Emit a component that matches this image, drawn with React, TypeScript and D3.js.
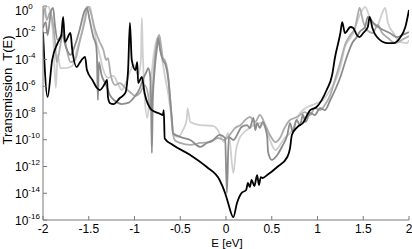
import React from 'react';
import * as d3 from 'd3';

const W = 412;
const H = 249;
const left = 43, right = 409, top = 6, bottom = 220;

const xTicks = [-2, -1.5, -1, -0.5, 0, 0.5, 1, 1.5, 2];
const xTickLabels = ['-2', '-1.5', '-1', '-0.5', '0', '0.5', '1', '1.5', '2'];
const yExponents = [0, -2, -4, -6, -8, -10, -12, -14, -16];

// [E in eV, log10 T(E)]
const blackCurve: [number, number][] = [
  [-2.00, -1.94], [-1.95, -6.8], [-1.90, -4.04], [-1.84, -2.77], [-1.80, -2.17], [-1.78, -0.82],
  [-1.76, -2.69], [-1.70, -2.02], [-1.68, -3.29], [-1.63, -4.56], [-1.60, -4.26], [-1.54, -3.81],
  [-1.52, -4.79], [-1.46, -5.53], [-1.41, -6.13], [-1.38, -6.28], [-1.32, -5.76], [-1.30, -5.53],
  [-1.29, -6.8], [-1.27, -7.25], [-1.23, -7.33], [-1.16, -6.88], [-1.10, -6.5], [-1.07, -4.79],
  [-1.05, -1.27], [-1.03, -4.04], [-0.99, -4.79], [-0.97, -4.19], [-0.96, -5.76], [-0.92, -5.31],
  [-0.89, -6.5], [-0.81, -7.78], [-0.74, -8.0], [-0.69, -8.15], [-0.68, -7.78], [-0.67, -9.9],
  [-0.58, -10.39], [-0.39, -11.14], [-0.21, -12.04], [-0.07, -13.01], [-0.01, -13.98], [0.02, -14.65],
  [0.08, -15.78], [0.12, -14.73], [0.17, -13.98], [0.22, -13.76], [0.24, -13.23], [0.26, -13.53],
  [0.28, -13.01], [0.31, -13.46], [0.34, -12.64], [0.36, -13.38], [0.38, -12.79], [0.40, -12.86],
  [0.45, -12.64], [0.56, -12.04], [0.67, -11.29], [0.70, -10.62], [0.72, -9.64], [0.78, -9.05],
  [0.84, -8.75], [0.92, -7.78], [0.99, -7.55], [1.10, -6.28], [1.16, -5.16], [1.19, -3.89],
  [1.25, -2.02], [1.27, -1.2], [1.30, -2.02], [1.36, -1.57], [1.39, -1.64], [1.43, -2.17],
  [1.46, -2.32], [1.50, -2.02], [1.55, -1.57], [1.57, -0.82], [1.60, -1.64], [1.65, -2.32],
  [1.76, -2.77], [1.83, -2.77], [1.90, -2.39], [1.96, -1.57], [2.00, -0.3],
];

const darkGrayCurve: [number, number][] = [
  [-2.00, -1.64], [-1.97, -1.2], [-1.95, -2.17], [-1.91, -0.3], [-1.89, -0.15], [-1.87, -1.42],
  [-1.84, -2.54], [-1.79, -2.17], [-1.75, -3.07], [-1.70, -3.66], [-1.65, -2.92], [-1.60, -1.79],
  [-1.55, -0.45], [-1.52, -0.15], [-1.49, -1.05], [-1.45, -2.32], [-1.42, -2.92], [-1.41, -3.89],
  [-1.40, -7.03], [-1.39, -4.19], [-1.36, -5.16], [-1.31, -5.91], [-1.27, -6.65], [-1.21, -7.1],
  [-1.14, -7.33], [-1.07, -7.25], [-1.01, -6.88], [-0.94, -6.13], [-0.91, -5.53], [-0.87, -4.93],
  [-0.85, -4.64], [-0.83, -5.16], [-0.82, -6.8], [-0.81, -10.99], [-0.80, -7.03], [-0.78, -4.79],
  [-0.75, -2.92], [-0.74, -2.39], [-0.72, -3.29], [-0.69, -4.04], [-0.66, -4.41], [-0.63, -5.53],
  [-0.61, -7.03], [-0.59, -8.52], [-0.58, -9.5], [-0.50, -9.79], [-0.39, -10.02], [-0.28, -10.54],
  [-0.21, -10.24], [-0.14, -10.02], [-0.07, -9.64], [-0.01, -9.87], [0.01, -13.98], [0.03, -9.79],
  [0.08, -10.02], [0.17, -9.05], [0.23, -8.9], [0.26, -9.12], [0.30, -8.37], [0.32, -9.27],
  [0.34, -8.75], [0.37, -9.12], [0.40, -8.67], [0.43, -9.12], [0.45, -9.79], [0.46, -10.92],
  [0.50, -11.51], [0.56, -11.14], [0.61, -10.54], [0.67, -9.64], [0.70, -8.75], [0.73, -9.42],
  [0.77, -8.52], [0.81, -8.9], [0.84, -8.15], [0.87, -8.67], [0.92, -8.0], [0.97, -8.15],
  [1.03, -7.63], [1.08, -7.78], [1.14, -7.03], [1.25, -5.31], [1.32, -3.81], [1.38, -2.77],
  [1.43, -2.32], [1.46, -1.94], [1.52, -1.57], [1.55, -0.82], [1.61, -1.27], [1.68, -1.64],
  [1.79, -2.02], [1.87, -2.32], [1.93, -2.17], [2.00, -1.94],
];

const midGrayCurve: [number, number][] = [
  [-2.00, -0.67], [-1.98, -0.15], [-1.96, -1.05], [-1.92, -0.45], [-1.89, -1.42], [-1.87, -2.54],
  [-1.85, -4.19], [-1.81, -2.92], [-1.78, -1.79], [-1.75, -2.92], [-1.70, -4.19], [-1.65, -4.04],
  [-1.60, -2.69], [-1.54, -1.05], [-1.51, 0], [-1.48, -0.45], [-1.43, -1.79], [-1.38, -2.69],
  [-1.34, -3.29], [-1.31, -4.04], [-1.29, -3.89], [-1.26, -5.16], [-1.21, -5.91], [-1.16, -5.76],
  [-1.10, -6.13], [-1.05, -6.43], [-0.99, -6.73], [-0.94, -6.5], [-0.89, -5.91], [-0.85, -6.65],
  [-0.83, -7.78], [-0.81, -7.03], [-0.78, -4.04], [-0.75, -2.54], [-0.73, -2.17], [-0.71, -2.92],
  [-0.69, -3.89], [-0.67, -4.04], [-0.64, -4.79], [-0.61, -6.88], [-0.59, -8.9], [-0.56, -10.02],
  [-0.50, -10.24], [-0.39, -10.39], [-0.28, -10.24], [-0.17, -10.17], [-0.09, -9.87], [-0.02, -10.02],
  [0.04, -9.64], [0.10, -9.12], [0.16, -8.9], [0.21, -8.52], [0.26, -8.3], [0.32, -8.67],
  [0.37, -8.15], [0.43, -8.9], [0.48, -9.64], [0.54, -10.17], [0.59, -9.87], [0.64, -9.12],
  [0.70, -8.52], [0.75, -8.37], [0.81, -8.15], [0.86, -7.93], [0.92, -8.15], [0.97, -7.63],
  [1.03, -7.78], [1.08, -7.4], [1.14, -6.65], [1.19, -5.53], [1.25, -4.19], [1.30, -2.92],
  [1.36, -2.17], [1.41, -1.64], [1.44, -0.67], [1.46, -0.15], [1.50, -1.2], [1.54, -1.79],
  [1.60, -2.02], [1.66, -1.42], [1.70, -1.94], [1.77, -2.39], [1.85, -2.77], [1.92, -2.54],
  [2.00, -2.24],
];

const lightGrayCurve: [number, number][] = [
  [-2.00, -1.05], [-1.97, -0.15], [-1.95, 0], [-1.92, -0.45], [-1.89, -2.17], [-1.86, -6.13],
  [-1.84, -3.66], [-1.81, -4.64], [-1.75, -4.64], [-1.68, -4.49], [-1.63, -3.29], [-1.57, -1.79],
  [-1.53, -0.3], [-1.51, 0], [-1.49, 0], [-1.45, -1.42], [-1.42, -2.54], [-1.38, -3.66],
  [-1.34, -4.79], [-1.29, -5.38], [-1.23, -5.23], [-1.18, -5.83], [-1.14, -6.28], [-1.09, -5.68],
  [-1.05, -4.93], [-1.01, -4.41], [-0.96, -5.16], [-0.93, -4.04], [-0.92, -0.9], [-0.91, -3.29],
  [-0.89, -6.65], [-0.86, -8.37], [-0.83, -6.28], [-0.79, -3.66], [-0.75, -2.39], [-0.73, -2.69],
  [-0.70, -3.89], [-0.67, -5.16], [-0.63, -6.65], [-0.60, -8.15], [-0.57, -9.64], [-0.52, -9.79],
  [-0.47, -9.27], [-0.43, -8.52], [-0.42, -7.63], [-0.39, -8.67], [-0.28, -8.9], [-0.14, -8.97],
  [-0.09, -9.27], [-0.02, -10.17], [0.02, -9.5], [0.04, -10.02], [0.08, -12.49], [0.11, -10.77],
  [0.14, -10.02], [0.20, -9.42], [0.26, -9.12], [0.32, -8.82], [0.37, -8.75], [0.43, -9.05],
  [0.48, -10.02], [0.54, -10.77], [0.59, -10.39], [0.64, -9.87], [0.70, -9.5], [0.75, -8.9],
  [0.81, -8.0], [0.89, -7.55], [0.97, -7.33], [1.06, -7.03], [1.14, -6.28], [1.19, -5.68],
  [1.25, -4.56], [1.30, -3.07], [1.36, -2.39], [1.39, -2.02], [1.44, -1.05], [1.49, -0.3],
  [1.52, -0.07], [1.57, -0.82], [1.65, -1.57], [1.68, -1.05], [1.74, -0.15], [1.77, -1.27],
  [1.83, -2.02], [1.90, -2.69], [1.98, -2.77], [2.00, -2.54],
];

const series = [
  { name: 'light', data: lightGrayCurve, color: '#cfcfcf' },
  { name: 'mid', data: midGrayCurve, color: '#acacac' },
  { name: 'dark', data: darkGrayCurve, color: '#8c8c8c' },
  { name: 'black', data: blackCurve, color: '#000000' },
];

const font = "'Liberation Sans', Arial, Helvetica, sans-serif";

export default function App() {
  const x = d3.scaleLinear().domain([-2, 2]).range([left, right]);
  const y = d3.scaleLog().domain([1e-16, 1]).range([bottom, top]);

  const line = d3
    .line<[number, number]>()
    .x(d => x(d[0]))
    .y(d => y(Math.pow(10, d[1])))
    .curve(d3.curveMonotoneX);

  const axisColor = '#7a7a7a';

  return (
    <svg
      width={W}
      height={H}
      style={{ position: 'absolute', left: 0, top: 0, background: '#fff' }}
      fontFamily={font}
    >
      <defs>
        <clipPath id="plot-clip">
          <rect x={left} y={top} width={right - left} height={bottom - top} />
        </clipPath>
      </defs>

      {/* curves */}
      <g clipPath="url(#plot-clip)">
        {series.map(s => (
          <path
            key={s.name}
            d={line(s.data) || ''}
            fill="none"
            stroke={s.color}
            strokeWidth={1.8}
            strokeLinejoin="round"
          />
        ))}
      </g>

      {/* axes */}
      <line x1={left} x2={left} y1={top} y2={bottom} stroke={axisColor} strokeWidth={1} />
      <line x1={left} x2={right} y1={bottom} y2={bottom} stroke={axisColor} strokeWidth={1} />

      {yExponents.map(e => {
        const ty = y(Math.pow(10, e));
        const base = Math.max(ty + 4.5, 15);
        return (
          <g key={e}>
            <line x1={left} x2={left + 4} y1={ty} y2={ty} stroke={axisColor} />
            <text x={15} y={base} fontSize={12} fill="#000">
              10
              <tspan dy={-6} fontSize={8}>{e}</tspan>
            </text>
          </g>
        );
      })}

      {xTicks.map((t, i) => {
        const tx = x(t);
        return (
          <g key={t}>
            <line x1={tx} x2={tx} y1={bottom} y2={bottom - 4} stroke={axisColor} />
            <text x={tx} y={233} fontSize={12} textAnchor="middle" fill="#000">
              {xTickLabels[i]}
            </text>
          </g>
        );
      })}

      <text x={227} y={247} fontSize={11.5} textAnchor="middle" fill="#000">
        E [eV]
      </text>
      <text
        transform="translate(12,90) rotate(-90)"
        fontSize={13}
        textAnchor="middle"
        fill="#000"
        style={{ whiteSpace: 'pre' }}
      >
        {'Transmission  T(E)'}
      </text>
    </svg>
  );
}
